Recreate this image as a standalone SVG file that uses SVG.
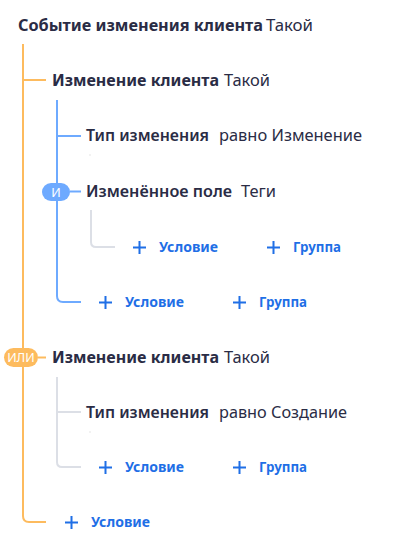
<svg xmlns="http://www.w3.org/2000/svg" width="402" height="549" viewBox="0 0 402 549">
<style>
text{font-family:"Noto Sans","Open Sans",sans-serif}
.t{font-size:16px;fill:#2a2c45}
.b{font-weight:700}
.s{font-weight:600}
.l{font-size:14px;font-weight:700;fill:#1f6fe6}
.o{fill:none;stroke:#fdbb5e;stroke-width:2}
.bl{fill:none;stroke:#6eaaff;stroke-width:2}
.g{fill:none;stroke:#dcdfe6;stroke-width:2}
.p{fill:none;stroke:#1f6fe6;stroke-width:2}
.bt{font-size:12.5px;fill:#fff;text-anchor:middle}
</style>
<g id="connectors">
<path class="o" d="M23 44 V516 Q23 522 29 522 H46"/>
<path class="o" d="M23 80 H46"/>
<path class="o" d="M38 357.5 H46"/>
<path class="bl" d="M57 100 V296 Q57 302 63 302 H81"/>
<path class="bl" d="M57 136 H81"/>
<path class="bl" d="M70 191.5 H81"/>
<path class="g" d="M91 210 V242 Q91 247 96 247 H115"/>
<path class="g" d="M57 377 V462 Q57 467 62 467 H81"/>
<path class="g" d="M57 412 H81"/>
</g>
<g id="root"><text class="t b" x="18" y="31" textLength="245" lengthAdjust="spacingAndGlyphs">Событие изменения клиента</text><text class="t" x="266" y="31" textLength="47" lengthAdjust="spacingAndGlyphs">Такой</text></g>
<g id="group1"><text class="t b" x="52" y="86" textLength="167" lengthAdjust="spacingAndGlyphs">Изменение клиента</text><text class="t" x="224" y="86" textLength="46" lengthAdjust="spacingAndGlyphs">Такой</text></g>
<g id="cond1"><text class="t s" x="86" y="141" textLength="123" lengthAdjust="spacingAndGlyphs">Тип изменения</text><text class="t" x="219" y="141" textLength="143" lengthAdjust="spacingAndGlyphs">равно Изменение</text><rect x="89.5" y="154.5" width="1" height="1" fill="#ccc"/></g>
<g id="and-badge"><rect x="42" y="183" width="28" height="18" rx="9" fill="#6eaaff"/><text class="bt" x="56" y="196.5">И</text></g>
<g id="cond2"><text class="t s" x="86" y="197" textLength="146" lengthAdjust="spacingAndGlyphs">Изменённое поле</text><text class="t" x="241" y="197" textLength="35" lengthAdjust="spacingAndGlyphs">Теги</text></g>
<g id="add1">
<path class="p" d="M133 247.5 H146 M139.5 241 V254"/><text class="l" x="159" y="252" textLength="59" lengthAdjust="spacingAndGlyphs">Условие</text>
<path class="p" d="M267 247.5 H280 M273.5 241 V254"/><text class="l" x="293" y="252" textLength="48" lengthAdjust="spacingAndGlyphs">Группа</text>
</g>
<g id="add2">
<path class="p" d="M99 302.5 H112 M105.5 296 V309"/><text class="l" x="125" y="307" textLength="59" lengthAdjust="spacingAndGlyphs">Условие</text>
<path class="p" d="M233 302.5 H246 M239.5 296 V309"/><text class="l" x="259" y="307" textLength="48" lengthAdjust="spacingAndGlyphs">Группа</text>
</g>
<g id="or-badge"><rect x="4" y="348" width="34" height="19" rx="9.5" fill="#fdbb5e"/><text class="bt" x="21" y="362">ИЛИ</text></g>
<g id="group2"><text class="t b" x="52" y="363" textLength="167" lengthAdjust="spacingAndGlyphs">Изменение клиента</text><text class="t" x="224" y="363" textLength="46" lengthAdjust="spacingAndGlyphs">Такой</text></g>
<g id="cond3"><text class="t s" x="86" y="418" textLength="123" lengthAdjust="spacingAndGlyphs">Тип изменения</text><text class="t" x="219" y="418" textLength="128" lengthAdjust="spacingAndGlyphs">равно Создание</text><rect x="89.5" y="431.5" width="1" height="1" fill="#ccc"/></g>
<g id="add3">
<path class="p" d="M99 467.5 H112 M105.5 461 V474"/><text class="l" x="125" y="472" textLength="59" lengthAdjust="spacingAndGlyphs">Условие</text>
<path class="p" d="M233 467.5 H246 M239.5 461 V474"/><text class="l" x="259" y="472" textLength="48" lengthAdjust="spacingAndGlyphs">Группа</text>
</g>
<g id="add4">
<path class="p" d="M65 522.5 H78 M71.5 516 V529"/><text class="l" x="91" y="527" textLength="59" lengthAdjust="spacingAndGlyphs">Условие</text>
</g>
</svg>
